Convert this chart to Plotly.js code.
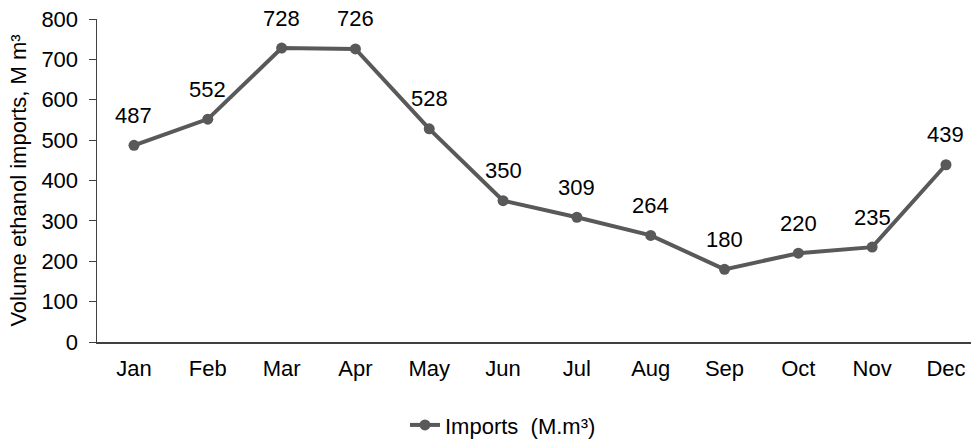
<!DOCTYPE html>
<html><head><meta charset="utf-8">
<script src="https://cdn.plot.ly/plotly-3.0.1.min.js"></script>
<style>html,body{margin:0;padding:0;background:#fff}#chart{width:971px;height:441px}</style>
</head><body><div id="chart"></div>
<script>
const months = ["Jan","Feb","Mar","Apr","May","Jun","Jul","Aug","Sep","Oct","Nov","Dec"];
const imports = [487,552,728,726,528,350,309,264,180,220,235,439];
const seriesName = "Imports  (M.m³)";
const yTitle = "Volume ethanol imports, M m³";

const lineColor = "#595959";
const font = {family: "Liberation Sans, Arial, sans-serif", size: 22, color: "#000"};

const trace = {
  x: months, y: imports, type: "scatter", mode: "lines+markers",
  name: seriesName,
  line: {color: lineColor, width: 4},
  marker: {color: lineColor, size: 11},
  hoverinfo: "none"
};

const annotations = months.map((m, i) => ({
  x: m, y: imports[i], xref: "x", yref: "y",
  text: String(imports[i]), showarrow: false,
  yshift: 30, font: font
}));

const layout = {
  width: 971, height: 441,
  margin: {l: 97, r: 0, t: 19, b: 99},
  paper_bgcolor: "#fff", plot_bgcolor: "#fff",
  font: font,
  showlegend: true,
  legend: {orientation: "h", xref: "container", yref: "container", x: 0.518, xanchor: "center", y: 0.036, yanchor: "middle", font: font},
  xaxis: {
    type: "category", range: [-0.501, 11.339],
    showline: true, linecolor: "#404040", linewidth: 2,
    ticks: "", showgrid: false, zeroline: false,
    tickfont: font, ticklabelstandoff: 6, automargin: false
  },
  yaxis: {
    range: [0, 800], dtick: 100,
    showline: true, linecolor: "#404040", linewidth: 1.5,
    ticks: "outside", ticklen: 7, tickcolor: "#404040",
    showgrid: false, zeroline: false,
    tickfont: font, ticklabelstandoff: 6, automargin: false,
    title: {text: yTitle, font: font, standoff: 8}
  },
  annotations: annotations
};

Plotly.newPlot("chart", [trace], layout, {displayModeBar: false, staticPlot: true});
</script></body></html>
